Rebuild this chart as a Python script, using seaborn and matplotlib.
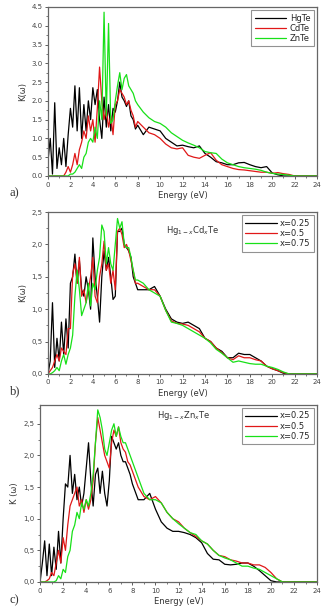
import matplotlib
matplotlib.use("Agg")
import matplotlib.pyplot as plt
from matplotlib.ticker import MultipleLocator, FormatStrFormatter, FuncFormatter
import seaborn as sns

# energy grid (eV), shared by all curves
energy = [0.0, 0.2, 0.4, 0.6, 0.8, 1.0, 1.2, 1.4, 1.6, 1.8,
          2.0, 2.2, 2.4, 2.6, 2.8, 3.0, 3.2, 3.4, 3.6, 3.8,
          4.0, 4.2, 4.4, 4.6, 4.8, 5.0, 5.2, 5.4, 5.6, 5.8,
          6.0, 6.2, 6.4, 6.6, 6.8, 7.0, 7.2, 7.4, 7.6, 7.8,
          8.0, 8.5, 9.0, 9.5, 10.0, 10.5, 11.0, 11.5, 12.0, 12.5,
          13.0, 13.5, 14.0, 14.5, 15.0, 15.5, 16.0, 16.5, 17.0, 17.5,
          18.0, 18.5, 19.0, 19.5, 20.0, 20.5, 21.0, 21.5, 22.0, 22.5,
          23.0, 23.5, 24.0]

# panel a) binary compounds
hgte = [0.40, 1.00, 0.05, 1.95, 0.20, 0.75, 0.30, 1.00, 0.25, 1.10,
        1.80, 1.30, 2.40, 1.20, 2.35, 1.00, 1.90, 1.20, 2.00, 1.50,
        2.35, 1.90, 2.30, 1.50, 1.00, 2.10, 1.30, 1.90, 1.20, 1.80,
        1.70, 2.00, 2.50, 2.10, 2.00, 1.85, 2.00, 1.60, 1.50, 1.25,
        1.35, 1.10, 1.30, 1.25, 1.20, 1.00, 0.90, 0.80, 0.82, 0.78,
        0.75, 0.80, 0.60, 0.50, 0.38, 0.35, 0.30, 0.30, 0.35, 0.36,
        0.30, 0.25, 0.22, 0.25, 0.08, 0.03, 0.00, 0.00, 0.00, 0.00,
        0.00, 0.00, 0.00]
cdte = [0.00, 0.00, 0.00, 0.00, 0.00, 0.00, 0.00, 0.00, 0.10, 0.25,
        0.10, 0.30, 0.60, 0.30, 0.70, 0.90, 1.20, 1.00, 1.60, 1.20,
        1.50, 0.90, 1.80, 2.90, 2.00, 1.50, 1.80, 1.30, 1.60, 1.10,
        1.90, 2.00, 2.30, 2.20, 2.10, 1.90, 2.00, 1.75, 1.60, 1.30,
        1.45, 1.30, 1.15, 1.10, 1.00, 0.85, 0.75, 0.72, 0.75, 0.55,
        0.50, 0.47, 0.55, 0.62, 0.42, 0.30, 0.25, 0.20, 0.17, 0.16,
        0.14, 0.12, 0.10, 0.10, 0.07, 0.09, 0.06, 0.04, 0.00, 0.00,
        0.00, 0.00, 0.00]
znte = [0.00, 0.00, 0.00, 0.00, 0.00, 0.00, 0.00, 0.00, 0.00, 0.00,
        0.05, 0.05, 0.10, 0.20, 0.30, 0.20, 0.50, 0.60, 0.90, 1.00,
        0.90, 1.30, 1.00, 2.00, 1.50, 4.36, 1.60, 4.06, 1.40, 1.50,
        2.00, 2.40, 2.75, 2.30, 2.60, 2.70, 2.40, 2.30, 2.20, 2.00,
        1.90, 1.70, 1.55, 1.45, 1.40, 1.30, 1.15, 1.05, 0.95, 0.88,
        0.82, 0.75, 0.65, 0.62, 0.60, 0.45, 0.35, 0.30, 0.25, 0.22,
        0.20, 0.18, 0.15, 0.10, 0.07, 0.05, 0.04, 0.02, 0.00, 0.00,
        0.00, 0.00, 0.00]

# panel b) Hg(1-x)Cd(x)Te
cd_025 = [0.00, 0.20, 1.10, 0.10, 0.55, 0.20, 0.80, 0.30, 0.85, 0.40,
          1.40, 1.50, 1.85, 1.40, 1.75, 1.30, 1.20, 1.50, 1.30, 1.00,
          2.10, 1.50, 1.20, 0.80, 1.50, 1.90, 1.60, 1.80, 1.50, 1.15,
          1.20, 2.20, 2.20, 2.25, 2.00, 1.95, 1.90, 1.80, 1.50, 1.40,
          1.30, 1.30, 1.30, 1.35, 1.20, 1.00, 0.85, 0.80, 0.78, 0.80,
          0.75, 0.70, 0.55, 0.50, 0.40, 0.35, 0.25, 0.25, 0.32, 0.30,
          0.30, 0.25, 0.20, 0.12, 0.08, 0.05, 0.01, 0.00, 0.00, 0.00,
          0.00, 0.00, 0.00]
cd_050 = [0.00, 0.05, 0.10, 0.20, 0.30, 0.20, 0.40, 0.35, 0.30, 0.70,
          0.70, 1.55, 1.70, 1.40, 1.80, 1.20, 1.30, 1.10, 1.30, 1.50,
          1.80, 1.20, 1.10, 1.50, 1.70, 2.05, 1.60, 1.70, 1.40, 1.60,
          1.30, 2.20, 2.25, 2.15, 1.95, 2.00, 1.90, 1.75, 1.60, 1.40,
          1.40, 1.35, 1.30, 1.30, 1.20, 0.98, 0.82, 0.78, 0.77, 0.75,
          0.70, 0.65, 0.55, 0.50, 0.40, 0.33, 0.25, 0.22, 0.28, 0.25,
          0.25, 0.22, 0.20, 0.12, 0.08, 0.05, 0.02, 0.00, 0.00, 0.00,
          0.00, 0.00, 0.00]
cd_075 = [0.00, 0.00, 0.02, 0.05, 0.10, 0.05, 0.20, 0.30, 0.15, 0.30,
          0.40, 0.60, 1.20, 1.60, 1.30, 0.90, 1.00, 1.10, 1.40, 1.05,
          1.40, 1.30, 1.60, 1.80, 2.30, 2.20, 1.70, 1.95, 1.70, 1.60,
          2.00, 2.40, 2.25, 2.35, 2.00, 1.95, 1.95, 1.80, 1.60, 1.45,
          1.45, 1.40, 1.30, 1.25, 1.20, 0.98, 0.80, 0.78, 0.75, 0.70,
          0.65, 0.60, 0.55, 0.48, 0.38, 0.32, 0.25, 0.18, 0.20, 0.18,
          0.16, 0.15, 0.15, 0.12, 0.10, 0.07, 0.03, 0.00, 0.00, 0.00,
          0.00, 0.00, 0.00]

# panel c) Hg(1-x)Zn(x)Te
zn_025 = [0.00, 0.30, 0.65, 0.10, 0.60, 0.10, 0.55, 0.20, 0.80, 0.30,
          1.00, 1.55, 1.50, 2.00, 1.40, 1.70, 1.30, 1.50, 1.20, 1.40,
          1.80, 2.20, 1.60, 1.20, 1.70, 1.80, 1.40, 1.75, 1.40, 1.20,
          1.60, 2.30, 2.20, 2.10, 2.20, 2.00, 1.90, 1.90, 1.80, 1.70,
          1.55, 1.30, 1.30, 1.40, 1.15, 0.95, 0.85, 0.80, 0.80, 0.78,
          0.75, 0.70, 0.62, 0.45, 0.36, 0.35, 0.28, 0.27, 0.28, 0.30,
          0.30, 0.25, 0.18, 0.10, 0.02, 0.00, 0.00, 0.00, 0.00, 0.00,
          0.00, 0.00, 0.00]
zn_050 = [0.00, 0.00, 0.00, 0.02, 0.05, 0.15, 0.10, 0.30, 0.50, 0.30,
          0.70, 0.50, 0.90, 1.20, 1.30, 1.40, 1.50, 1.20, 1.30, 1.10,
          1.30, 1.15, 1.30, 1.60, 2.20, 2.60, 2.40, 2.20, 2.00, 1.90,
          1.80, 2.20, 2.40, 2.30, 2.45, 2.20, 2.10, 2.05, 1.90, 1.85,
          1.75, 1.50, 1.35, 1.30, 1.35, 1.25, 1.10, 1.00, 0.95, 0.85,
          0.78, 0.72, 0.65, 0.60, 0.50, 0.42, 0.40, 0.35, 0.33, 0.30,
          0.30, 0.27, 0.27, 0.23, 0.15, 0.05, 0.00, 0.00, 0.00, 0.00,
          0.00, 0.00, 0.00]
zn_075 = [0.00, 0.00, 0.00, 0.00, 0.00, 0.00, 0.00, 0.02, 0.10, 0.05,
          0.20, 0.15, 0.40, 0.50, 0.80, 0.90, 1.10, 1.00, 1.25, 1.15,
          1.30, 1.20, 1.40, 1.70, 2.20, 2.72, 2.60, 2.40, 2.10, 2.00,
          2.20, 2.40, 2.50, 2.30, 2.45, 2.30, 2.20, 2.20, 2.10, 2.00,
          1.90, 1.65, 1.40, 1.30, 1.30, 1.25, 1.10, 1.00, 0.92, 0.85,
          0.78, 0.75, 0.65, 0.60, 0.50, 0.42, 0.38, 0.35, 0.30, 0.25,
          0.25, 0.22, 0.20, 0.15, 0.10, 0.05, 0.00, 0.00, 0.00, 0.00,
          0.00, 0.00, 0.00]

colors = ["#000000", "#e01818", "#18e018"]
x_labels = ["x=0.25", "x=0.5", "x=0.75"]

sns.set_style("ticks")
plt.rcParams["font.family"] = ["DejaVu Sans"]

fig = plt.figure(figsize=(3.31, 6.11), dpi=100)
ax_a = fig.add_axes([0.145, 0.712, 0.813, 0.2766])
ax_b = fig.add_axes([0.145, 0.388, 0.813, 0.265])
ax_c = fig.add_axes([0.121, 0.0475, 0.837, 0.290])


def style_axis(ax, ymax, ystep, comma):
    ax.set_xlim(0, 24)
    ax.set_ylim(0, ymax)
    ax.xaxis.set_major_locator(MultipleLocator(2))
    ax.xaxis.set_minor_locator(MultipleLocator(1))
    ax.yaxis.set_major_locator(MultipleLocator(ystep))
    ax.yaxis.set_minor_locator(MultipleLocator(ystep / 2))
    if comma:
        ax.yaxis.set_major_formatter(FuncFormatter(lambda v, p: f"{v:.1f}".replace(".", ",")))
    else:
        ax.yaxis.set_major_formatter(FormatStrFormatter("%.1f"))
    ax.tick_params(which="major", direction="out", length=2.5, width=0.6,
                   labelsize=5, colors="#444444", pad=1.5)
    ax.tick_params(which="minor", direction="out", length=1.5, width=0.5, colors="#444444")
    for s in ax.spines.values():
        s.set_color("#666666")
        s.set_linewidth(0.9)
    ax.set_xlabel("Energy (eV)", fontsize=6, color="#333333", labelpad=2.5)


def add_legend(ax):
    leg = ax.legend(loc="upper right", fontsize=6, frameon=True, fancybox=False,
                    edgecolor="#777777", handlelength=3.8, labelspacing=0.15,
                    borderpad=0.4, borderaxespad=0.4, handletextpad=0.4)
    leg.get_frame().set_linewidth(0.8)


# a)
for vals, lab, c in zip([hgte, cdte, znte], ["HgTe", "CdTe", "ZnTe"], colors):
    sns.lineplot(x=energy, y=vals, ax=ax_a, color=c, linewidth=0.9, label=lab)
style_axis(ax_a, 4.5, 0.5, False)
ax_a.set_ylabel("K(ω)", fontsize=6, color="#333333", labelpad=3)
add_legend(ax_a)

# b)
for vals, lab, c in zip([cd_025, cd_050, cd_075], x_labels, colors):
    sns.lineplot(x=energy, y=vals, ax=ax_b, color=c, linewidth=0.9, label=lab)
style_axis(ax_b, 2.5, 0.5, True)
ax_b.set_ylabel("K(ω)", fontsize=6, color="#333333", labelpad=3)
ax_b.text(10.5, 2.22, r"Hg$_{1-x}$Cd$_x$Te", fontsize=6, color="#333333", va="center")
add_legend(ax_b)

# c)
for vals, lab, c in zip([zn_025, zn_050, zn_075], x_labels, colors):
    sns.lineplot(x=energy, y=vals, ax=ax_c, color=c, linewidth=0.9, label=lab)
style_axis(ax_c, 2.8, 0.5, True)
ax_c.set_ylabel("K (ω)", fontsize=6, color="#333333", labelpad=3)
ax_c.text(10.1, 2.63, r"Hg$_{1-x}$Zn$_x$Te", fontsize=6, color="#333333", va="center")
add_legend(ax_c)

for lab, yy in [("a)", 193), ("b)", 391), ("c)", 600)]:
    fig.text(0.03, 1 - yy / 611, lab, family="Liberation Serif", fontsize=9,
             color="#333333", va="center")

fig.savefig("out.png", dpi=100)
